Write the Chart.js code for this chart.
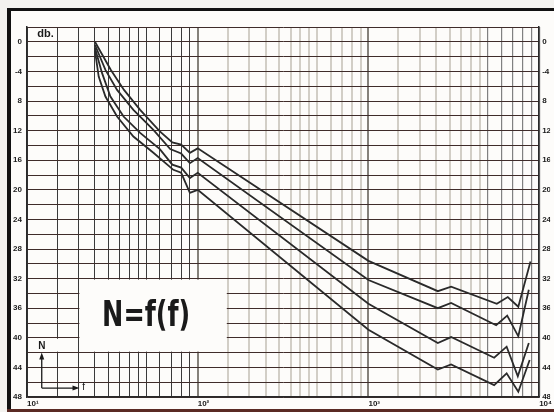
<!DOCTYPE html>
<html>
<head>
<meta charset="utf-8">
<script src="https://cdn.jsdelivr.net/npm/chart.js"></script>
<style>
html, body { margin: 0; padding: 0; background: #f3f2ef; }
#wrap { width: 554px; height: 412px; }
</style>
</head>
<body>
<div id="wrap"><canvas id="noiseChart" width="554" height="412"></canvas></div>
<script>
const freqCurve1 = [25, 31, 37, 46, 60, 71, 80, 90, 100, 1000, 2550, 3050, 5650, 6550, 7550, 8900];
const dbCurve1   = [0, 3.8, 6.5, 9.2, 12.1, 13.6, 13.9, 15.0, 14.4, 29.6, 33.7, 33.1, 35.4, 34.5, 35.8, 29.7];

const freqCurve2 = [25, 28.8, 33.7, 42, 55, 69, 80, 90, 100, 1000, 2550, 3050, 5600, 6500, 7550, 8700];
const dbCurve2   = [0.4, 3.8, 6.5, 9.2, 11.9, 14.5, 15.1, 16.4, 15.7, 32.2, 36.0, 35.3, 38.3, 37.0, 39.8, 33.5];

const freqCurve3 = [25, 27.5, 30.8, 36.8, 46, 60, 71, 80, 90, 100, 1000, 2550, 3050, 5450, 6450, 7500, 8700];
const dbCurve3   = [0.8, 4.2, 7.4, 10.1, 12.3, 14.5, 16.6, 17.0, 18.4, 17.7, 35.4, 40.7, 39.9, 42.7, 41.2, 45.2, 40.7];

const freqCurve4 = [25, 26.3, 28.8, 33.7, 42, 55, 72, 80, 90, 100, 1000, 2550, 3050, 5450, 6450, 7550, 8800];
const dbCurve4   = [1.2, 4.7, 7.4, 10.1, 12.8, 15.0, 17.3, 17.7, 20.4, 20.0, 38.9, 44.3, 43.6, 46.4, 44.8, 47.3, 43.0];

// Etiquetas de los ejes
const xTickValues = [10, 100, 1000, 10000];
const xTickLabels = ['10¹', '10²', '10³', '10⁴'];
const gridSteps = [1, 1.5, 2, 2.5, 3, 3.5, 4, 4.5, 5, 6, 7, 8, 9];
const yTickValues = [0, 4, 8, 12, 16, 20, 24, 28, 32, 36, 40, 44, 48];
const yTickLabels = ['0', '-4', '8', '12', '16', '20', '24', '28', '32', '36', '40', '44', '48'];

// Papel semilogarítmico: líneas verticales en cada década
const gridFreqs = [];
[10, 100, 1000].forEach(dec => gridSteps.forEach(s => gridFreqs.push(dec * s)));
gridFreqs.push(10000);

function toPoints(freqs, dbs) {
    return freqs.map((f, i) => ({ x: f, y: dbs[i] }));
}

function yLabel(value) {
    const i = yTickValues.indexOf(value);
    return i >= 0 ? yTickLabels[i] : '';
}

function xGridColor(ctx) {
    const v = ctx.tick ? ctx.tick.value : 0;
    if (v < 100) return '#3a3a3a';
    if (v === 100 || v === 1000) return '#85817a';
    if (v < 5000) return 'rgba(175,168,155,0.55)';
    return '#808080';
}

function xGridWidth(ctx) {
    const v = ctx.tick ? ctx.tick.value : 0;
    if (v < 100) return 1;
    if (v < 5000) return 2;
    return 1.2;
}

// Fondo, marco del papel escaneado y recuadro N=f(f)
const paperPlugin = {
    id: 'paper',
    beforeDraw(chart) {
        const c = chart.ctx;
        c.save();
        c.fillStyle = '#f3f2ef';
        c.fillRect(0, 0, chart.width, chart.height);
        c.fillStyle = '#fdfcfa';
        c.fillRect(10, 10, chart.width - 10, chart.height - 12);
        c.fillStyle = '#111';
        c.fillRect(7, 8, 4, chart.height - 8);
        c.fillRect(7, 8, chart.width - 7, 3);
        c.fillStyle = '#5a2a24';
        c.fillRect(7, chart.height - 3, chart.width - 7, 3);
        c.restore();
    },
    beforeDatasetsDraw(chart) {
        const c = chart.ctx;
        const xs = chart.scales.x, ys = chart.scales.y;
        c.save();
        c.fillStyle = '#fdfcfa';
        // recuadro grande
        const bx0 = xs.getPixelForValue(20) + 1, bx1 = xs.getPixelForValue(150) - 1;
        const by0 = ys.getPixelForValue(32) + 1, by1 = ys.getPixelForValue(42) - 1;
        c.fillRect(bx0, by0, bx1 - bx0, by1 - by0);
        // hueco para la "N"
        const nx0 = xs.getPixelForValue(10) + 1, nx1 = xs.getPixelForValue(20) - 1;
        const ny0 = ys.getPixelForValue(40) + 1;
        c.fillRect(nx0, ny0, nx1 - nx0, by1 - ny0);

        // texto N=f(f), estrecho
        c.fillStyle = '#1a1a1a';
        c.font = 'bold 36px "Liberation Sans Narrow", "DejaVu Sans Condensed", "Liberation Sans", sans-serif';
        c.textBaseline = 'middle';
        c.textAlign = 'left';
        const txt = 'N=f(f)';
        const w = c.measureText(txt).width;
        const sx = 88 / w;
        const cx = (bx0 + bx1) / 2 - 7;
        const cy = (by0 + by1) / 2 + 1;
        c.translate(cx - 44, cy);
        c.scale(sx, 1);
        c.fillText(txt, 0, 0);
        c.restore();

        // "db." arriba a la izquierda
        c.save();
        c.fillStyle = '#1a1a1a';
        c.font = 'bold 11px "Liberation Sans", sans-serif';
        c.textBaseline = 'middle';
        c.fillText('db.', xs.getPixelForValue(11.5), ys.getPixelForValue(-1.1));
        c.restore();

        // pequeño icono de ejes N / f
        c.save();
        const ax = xs.getPixelForValue(12.2);
        const ayTop = ys.getPixelForValue(42.4);
        const ayBot = ys.getPixelForValue(46.8);
        const axRight = xs.getPixelForValue(19.5);
        c.strokeStyle = '#1a1a1a';
        c.fillStyle = '#1a1a1a';
        c.lineWidth = 1.3;
        c.beginPath();
        c.moveTo(ax, ayBot);
        c.lineTo(ax, ayTop);
        c.moveTo(ax, ayBot);
        c.lineTo(axRight, ayBot);
        c.stroke();
        c.beginPath();
        c.moveTo(ax, ayTop - 3);
        c.lineTo(ax - 2.5, ayTop + 4);
        c.lineTo(ax + 2.5, ayTop + 4);
        c.closePath();
        c.fill();
        c.beginPath();
        c.moveTo(axRight + 3, ayBot);
        c.lineTo(axRight - 4, ayBot - 2.5);
        c.lineTo(axRight - 4, ayBot + 2.5);
        c.closePath();
        c.fill();
        c.font = 'bold 10px "Liberation Sans", sans-serif';
        c.textAlign = 'center';
        c.textBaseline = 'middle';
        c.fillText('N', ax, ys.getPixelForValue(41.1));
        c.font = '10px "Liberation Sans", sans-serif';
        c.fillText('f', xs.getPixelForValue(21.5), ayBot - 1);
        c.restore();
    }
};

const lineStyle = {
    borderColor: '#2a2a2a',
    borderWidth: 1.8,
    pointRadius: 0,
    tension: 0,
    fill: false
};

const ctx = document.getElementById('noiseChart').getContext('2d');
new Chart(ctx, {
    type: 'line',
    data: {
        datasets: [
            Object.assign({ label: 'curva 1', data: toPoints(freqCurve1, dbCurve1) }, lineStyle),
            Object.assign({ label: 'curva 2', data: toPoints(freqCurve2, dbCurve2) }, lineStyle),
            Object.assign({ label: 'curva 3', data: toPoints(freqCurve3, dbCurve3) }, lineStyle),
            Object.assign({ label: 'curva 4', data: toPoints(freqCurve4, dbCurve4) }, lineStyle)
        ]
    },
    options: {
        responsive: false,
        animation: false,
        devicePixelRatio: 1,
        layout: { padding: { top: 27, left: 0, right: 0, bottom: 0 } },
        plugins: {
            legend: { display: false },
            tooltip: { enabled: false }
        },
        scales: {
            x: {
                type: 'logarithmic',
                min: 10,
                max: 10000,
                afterBuildTicks(scale) {
                    scale.ticks = gridFreqs.map(v => ({ value: v }));
                },
                afterFit(scale) { scale.height = 15; },
                ticks: {
                    autoSkip: false,
                    maxRotation: 0,
                    align: 'start',
                    padding: 2,
                    color: '#1a1a1a',
                    font: { family: '"Liberation Sans", sans-serif', size: 8, weight: 'bold' },
                    callback(value) {
                        const i = xTickValues.indexOf(value);
                        return i >= 0 ? xTickLabels[i] : '';
                    }
                },
                grid: {
                    color: xGridColor,
                    lineWidth: xGridWidth,
                    drawTicks: false
                },
                border: { display: true, color: '#2a2a2a', width: 1.5 }
            },
            y: {
                type: 'linear',
                position: 'left',
                min: -2,
                max: 48,
                reverse: true,
                afterFit(scale) { scale.width = 27; },
                ticks: {
                    stepSize: 2,
                    autoSkip: false,
                    padding: 5,
                    color: '#1a1a1a',
                    font: { family: '"Liberation Sans", sans-serif', size: 8, weight: 'bold' },
                    callback: yLabel
                },
                grid: {
                    color: '#3f2c2a',
                    lineWidth: 1,
                    drawTicks: false
                },
                border: { display: true, color: '#2a2a2a', width: 1.5 }
            },
            y2: {
                type: 'linear',
                position: 'right',
                min: -2,
                max: 48,
                reverse: true,
                afterFit(scale) { scale.width = 11; },
                ticks: {
                    stepSize: 2,
                    autoSkip: false,
                    padding: 3,
                    color: '#1a1a1a',
                    font: { family: '"Liberation Sans", sans-serif', size: 8, weight: 'bold' },
                    callback: yLabel
                },
                grid: { display: false, drawTicks: false },
                border: { display: true, color: '#2a2a2a', width: 1.5 }
            }
        }
    },
    plugins: [paperPlugin]
});
</script>
</body>
</html>
